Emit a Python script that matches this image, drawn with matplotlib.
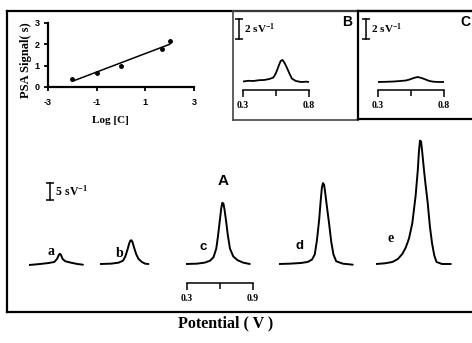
import numpy as np
import matplotlib
matplotlib.use("Agg")
import matplotlib.pyplot as plt

# calibration inset: log concentration vs PSA signal
log_c = [-2.0, -1.0, 0.0, 1.7, 2.0]
psa_signal = [0.38, 0.65, 1.0, 1.8, 2.15]

# main traces (potential in V, signal in sV-1)
a_pot = [0.30, 0.40, 0.48, 0.53, 0.555, 0.57, 0.58, 0.59, 0.605, 0.63, 0.68, 0.74, 0.79]
a_sig = [-0.3, 0.0, 0.3, 0.6, 1.5, 2.6, 3.0, 2.7, 1.5, 0.8, 0.4, 0.0, -0.2]
b_pot = [0.30, 0.40, 0.47, 0.51, 0.53, 0.55, 0.565, 0.575, 0.585, 0.595, 0.61, 0.63, 0.65, 0.68, 0.71, 0.74]
b_sig = [0.0, 0.1, 0.4, 1.0, 2.2, 4.2, 6.0, 6.8, 7.0, 6.5, 4.8, 2.8, 1.5, 0.6, 0.1, 0.0]
c_pot = [0.30, 0.40, 0.47, 0.52, 0.55, 0.575, 0.59, 0.61, 0.62, 0.63, 0.64, 0.65, 0.665, 0.68, 0.70, 0.73, 0.77, 0.82, 0.88]
c_sig = [0.0, 0.1, 0.4, 1.0, 2.0, 4.5, 8.0, 13.5, 16.3, 18.0, 17.8, 16.0, 12.5, 8.5, 4.5, 2.2, 1.1, 0.4, 0.0]
d_pot = [0.30, 0.40, 0.50, 0.56, 0.60, 0.625, 0.645, 0.665, 0.68, 0.69, 0.70, 0.71, 0.72, 0.735, 0.755, 0.775, 0.795, 0.82, 0.88, 0.97]
d_sig = [0.0, 0.1, 0.3, 0.6, 1.3, 2.8, 7.0, 13.0, 19.0, 22.5, 23.8, 23.3, 21.0, 17.0, 12.0, 6.5, 2.8, 0.8, 0.1, -0.2]
e_pot = [0.30, 0.38, 0.45, 0.50, 0.54, 0.57, 0.60, 0.63, 0.66, 0.68, 0.69, 0.70, 0.71, 0.72, 0.735, 0.75, 0.77, 0.79, 0.81, 0.83, 0.85, 0.90, 0.98]
e_sig = [0.0, 0.2, 0.6, 1.5, 3.0, 4.8, 7.5, 12.0, 20.0, 27.6, 33.0, 36.3, 36.0, 33.0, 28.0, 23.5, 18.0, 11.0, 6.0, 2.5, 0.6, 0.0, 0.0]
trace_labels = ["a", "b", "c", "d", "e"]

# insets B and C
B_pot = [0.30, 0.34, 0.38, 0.42, 0.46, 0.50, 0.53, 0.55, 0.57, 0.585, 0.60, 0.615, 0.63, 0.65, 0.67, 0.70, 0.74, 0.78, 0.80]
B_sig = [0.05, 0.12, 0.1, 0.18, 0.2, 0.3, 0.45, 0.9, 1.6, 2.1, 2.2, 1.9, 1.5, 0.9, 0.35, 0.1, 0.0, 0.03, 0.0]
C_pot = [0.30, 0.36, 0.42, 0.47, 0.51, 0.54, 0.57, 0.60, 0.63, 0.66, 0.69, 0.72, 0.76, 0.80]
C_sig = [0.0, 0.02, 0.05, 0.1, 0.15, 0.25, 0.4, 0.5, 0.4, 0.25, 0.1, 0.03, 0.0, 0.0]

SERIF = "Liberation Serif"
SANS = "Liberation Sans"
plt.rcParams["axes.unicode_minus"] = False
plt.rcParams["mathtext.fontset"] = "custom"
plt.rcParams["mathtext.rm"] = "Liberation Serif:bold"
plt.rcParams["mathtext.it"] = "Liberation Serif:bold"
plt.rcParams["mathtext.bf"] = "Liberation Serif:bold"

W, H = 472, 343
fig = plt.figure(figsize=(W / 100, H / 100), dpi=100)


def px_axes(left, top, width, height):
    # place an axes using pixel positions measured from the top-left corner
    return fig.add_axes([left / W, 1 - (top + height) / H, width / W, height / H])


def box(left, top, width, height, color, lw, hide=()):
    ax = px_axes(left, top, width, height)
    ax.set_xticks([])
    ax.set_yticks([])
    ax.patch.set_alpha(0)
    for side, sp in ax.spines.items():
        sp.set_color(color)
        sp.set_linewidth(lw)
        if side in hide:
            sp.set_visible(False)
    return ax


def scale_bar(ax, x, y0, size, text, fontsize):
    ax.plot([x, x], [y0, y0 + size], color="k", lw=1.1, marker="_", ms=6, mew=1.1,
            clip_on=False)
    ax.text(x, y0 + size / 2, "  " + text, ha="left", va="center", family=SERIF,
            weight="bold", fontsize=fontsize, clip_on=False)


def potential_bracket(ax, lo, hi, pad):
    for side in ["top", "left", "right"]:
        ax.spines[side].set_visible(False)
    ax.spines["bottom"].set_linewidth(1.1)
    ax.set_xlim(lo, hi)
    ax.set_xticks([lo, hi])
    ax.set_xticks([(lo + hi) / 2], minor=True)
    ax.set_xticklabels([f"{lo:.1f}", f"{hi:.1f}"])
    ax.tick_params(axis="x", which="both", direction="out", length=5, width=1.1, pad=pad)
    ax.tick_params(axis="x", which="minor", length=4)
    ax.tick_params(axis="y", left=False, labelleft=False)
    for t in ax.get_xticklabels():
        t.set_family(SERIF)
        t.set_weight("bold")
        t.set_fontsize(7)


# outer frame and inset boxes
box(7, 11, 470, 301, "k", 1.6, hide=("right",))
box(233, 11, 125, 109, "#444444", 1.2)
box(358, 11, 120, 108, "k", 1.6, hide=("right",))

# calibration plot
cal = px_axes(48, 23, 146, 64)
cal.patch.set_alpha(0)
cal.plot(log_c, psa_signal, "o", color="k", ms=2.5)
slope, intercept = np.polyfit(log_c, psa_signal, 1)
fit_x = np.array([min(log_c), max(log_c)])
cal.plot(fit_x, slope * fit_x + intercept, color="k", lw=1.1)
cal.set_xlim(-3, 3)
cal.set_ylim(0, 3)
cal.set_xticks([-3, -1, 1, 3])
cal.set_yticks([0, 1, 2, 3])
cal.spines["top"].set_visible(False)
cal.spines["right"].set_visible(False)
for sp in ["left", "bottom"]:
    cal.spines[sp].set_linewidth(1.6)
cal.tick_params(direction="out", length=3, width=1.3, pad=3, labelsize=6.5)
cal.tick_params(axis="x", pad=5)
for t in cal.get_xticklabels() + cal.get_yticklabels():
    t.set_family(SANS)
    t.set_weight("bold")
cal.set_ylabel("PSA Signal( s)", family=SERIF, weight="bold", fontsize=9)
cal.yaxis.set_label_coords(-0.11, 0.42)
cal.set_xlabel("Log [C]", family=SERIF, weight="bold", fontsize=8)
cal.xaxis.set_label_coords(0.43, -0.45)

# main traces: 110 px per volt, 3.4 px per sV-1, baseline near y=264
main_traces = [(a_pot, a_sig), (b_pot, b_sig), (c_pot, c_sig), (d_pot, d_sig), (e_pot, e_sig)]
trace_left = [29, 100, 186, 279, 376]
label_pos = [(0.50, 3.8), (0.48, 3.2), (0.455, 5.0), (0.49, 5.3), (0.43, 7.6)]
label_family = [SERIF, SERIF, SANS, SANS, SERIF]
trace_axes = []
for (pot, sig), left, lab, (lx, ly), fam in zip(main_traces, trace_left, trace_labels,
                                               label_pos, label_family):
    ax = px_axes(left, 128, 77, 142.8)
    ax.set_xlim(0.3, 1.0)
    ax.set_ylim(-2, 40)
    ax.axis("off")
    ax.plot(pot, sig, color="k", lw=1.4, solid_capstyle="round", solid_joinstyle="round")
    ax.text(lx, ly, lab, ha="center", va="center", family=fam, weight="bold",
            fontsize=10 if fam == SERIF else 9.5)
    trace_axes.append(ax)

scale_bar(trace_axes[0], 0.49, 18.8, 5, "5 sV$^{-1}$", 8.5)
trace_axes[2].text(0.636, 24.3, "A", ha="center", va="center", family=SANS,
                   weight="bold", fontsize=11)

br = px_axes(187, 280, 66, 3)
br.patch.set_alpha(0)
potential_bracket(br, 0.3, 0.9, pad=3)

# insets B and C: 132 px per volt, 10 px per sV-1
for pot, sig, left, name, bar_x, name_x in [(B_pot, B_sig, 243, "B", 0.27, 1.09),
                                             (C_pot, C_sig, 378, "C", 0.21, 0.96)]:
    ax = px_axes(left, 10, 66, 80)
    ax.patch.set_alpha(0)
    ax.set_ylim(-0.8, 7.2)
    ax.set_yticks([])
    ax.plot(pot, sig, color="k", lw=1.3)
    potential_bracket(ax, 0.3, 0.8, pad=3)
    scale_bar(ax, bar_x, 4.3, 2, "2 sV$^{-1}$", 8)
    ax.text(name_x, 6.0, name, ha="center", va="center", family=SANS,
            weight="bold", fontsize=10, clip_on=False)

fig.text(226 / W, 1 - 323 / H, "Potential ( V )", ha="center", va="center",
         family=SERIF, weight="bold", fontsize=11.5)

fig.savefig("out.png", dpi=100)
